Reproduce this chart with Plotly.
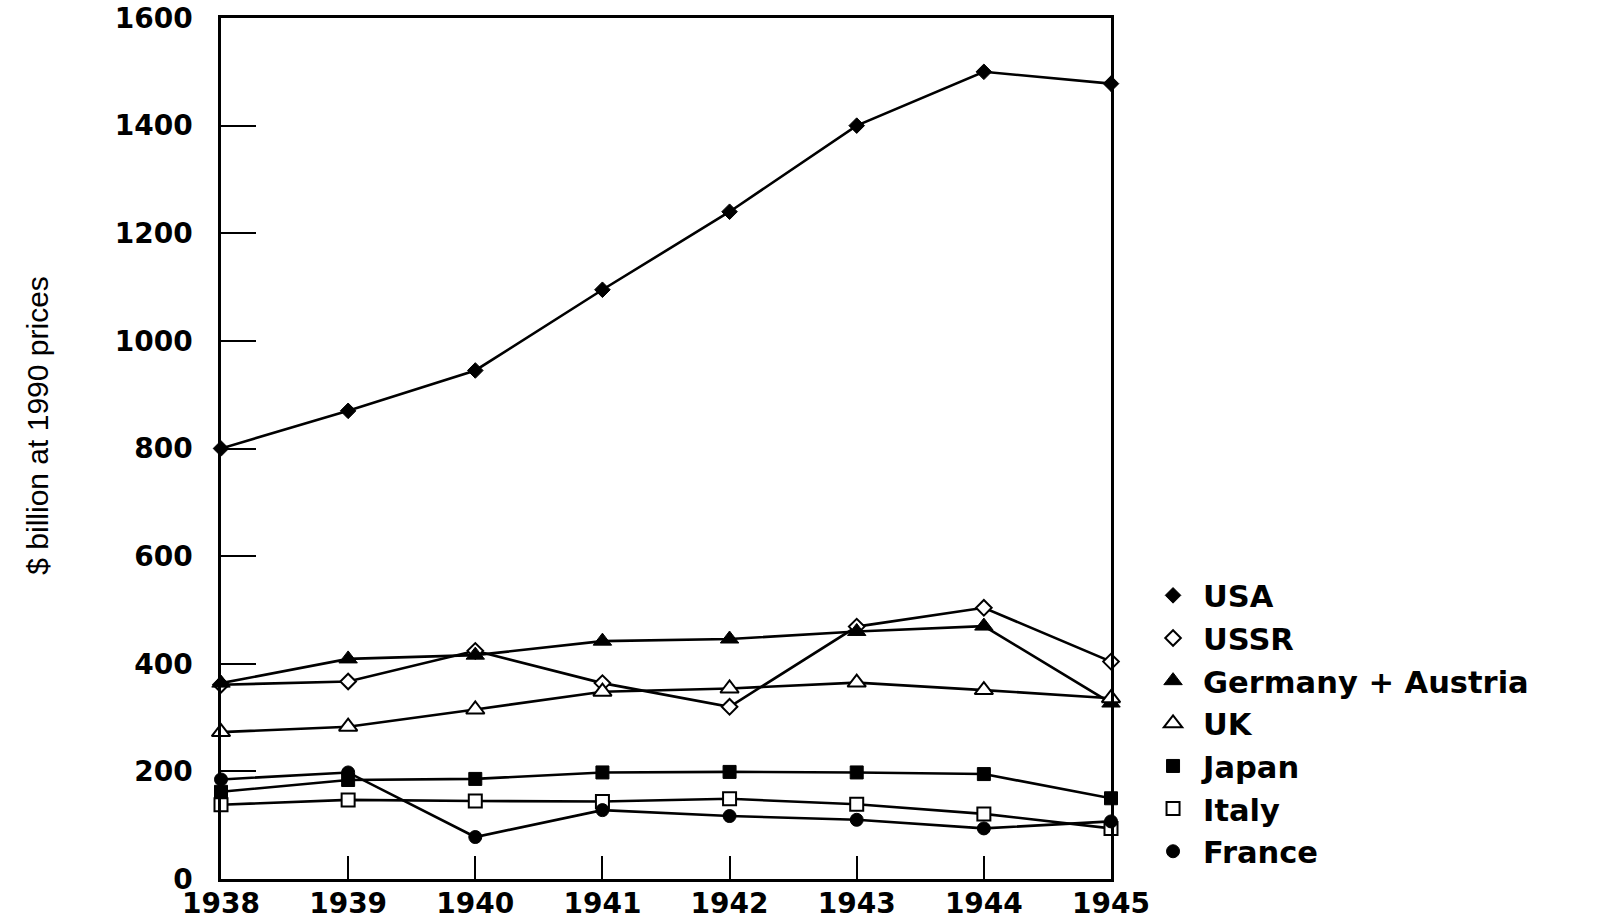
import plotly.graph_objects as go

years = [1938, 1939, 1940, 1941, 1942, 1943, 1944, 1945]

usa = [800, 870, 945, 1095, 1240, 1400, 1500, 1478]
ussr = [361, 367, 424, 364, 320, 469, 504, 404]
germany_austria = [364, 409, 416, 442, 446, 460, 470, 327]
uk = [273, 283, 315, 348, 354, 365, 351, 336]
japan = [162, 184, 186, 198, 199, 198, 195, 150]
italy = [138, 147, 145, 144, 149, 139, 121, 94]
france = [185, 198, 78, 128, 117, 110, 94, 107]

series_names = ["USA", "USSR", "Germany + Austria", "UK", "Japan", "Italy", "France"]
series_values = [usa, ussr, germany_austria, uk, japan, italy, france]
y_ticks = [0, 200, 400, 600, 800, 1000, 1200, 1400, 1600]

marker_styles = [
    dict(symbol="diamond", size=12, color="black", line=dict(color="black", width=1)),
    dict(symbol="diamond", size=12, color="white", line=dict(color="black", width=2)),
    dict(symbol="triangle-up", size=16, color="black", line=dict(color="black", width=1)),
    dict(symbol="triangle-up", size=16, color="white", line=dict(color="black", width=2)),
    dict(symbol="square", size=13, color="black", line=dict(color="black", width=1)),
    dict(symbol="square", size=13, color="white", line=dict(color="black", width=2)),
    dict(symbol="circle", size=13, color="black", line=dict(color="black", width=1)),
]

fig = go.Figure()

for name, vals, mk in zip(series_names, series_values, marker_styles):
    fig.add_trace(go.Scatter(
        x=years, y=vals, name=name, mode="lines+markers",
        line=dict(color="black", width=2.6),
        marker=mk, cliponaxis=False, showlegend=False,
    ))

for name, mk in zip(series_names, marker_styles):
    fig.add_trace(go.Scatter(
        x=[None], y=[None], name=name, mode="markers",
        marker=mk, showlegend=True, legendgroup=name,
    ))

tick_font = dict(family="DejaVu Sans", size=28, color="black", weight="bold")

fig.update_layout(
    width=1603, height=921,
    margin=dict(l=221, r=492, t=18, b=42, autoexpand=False),
    paper_bgcolor="white", plot_bgcolor="white",
    xaxis=dict(
        range=[1938, 1945], tickmode="array", tickvals=years,
        ticktext=[str(y) for y in years],
        ticks="inside", ticklen=23, tickwidth=2, tickcolor="black",
        showline=True, linecolor="black", linewidth=2.5, mirror=True,
        showgrid=False, zeroline=False, tickfont=tick_font,
        ticklabelstandoff=-2, automargin=False, ticklabeloverflow="allow",
    ),
    yaxis=dict(
        range=[0, 1600], tickmode="array", tickvals=y_ticks,
        ticktext=[str(v) for v in y_ticks],
        ticks="inside", ticklen=35, tickwidth=2, tickcolor="black",
        showline=True, linecolor="black", linewidth=2.5, mirror=True,
        showgrid=False, zeroline=False, tickfont=tick_font,
        ticklabelstandoff=20, automargin=False, ticklabeloverflow="allow",
    ),
    legend=dict(
        x=1.036, xanchor="left", y=0.360, yanchor="top",
        font=dict(family="DejaVu Sans", size=30.5, color="black", weight="bold"),
        bgcolor="rgba(0,0,0,0)", tracegroupgap=0, itemsizing="trace",
        itemwidth=50,
    ),
    annotations=[dict(
        text="$ billion at 1990 prices", xref="paper", yref="paper",
        x=-0.2056, y=0.5265, xanchor="center", yanchor="middle",
        textangle=-90, showarrow=False,
        font=dict(family="Liberation Sans", size=30, color="black"),
    )],
)

fig.write_html(
    "out.html",
    config={"displayModeBar": False},
    post_script="document.body.style.margin='0';document.body.style.overflow='hidden';",
)
